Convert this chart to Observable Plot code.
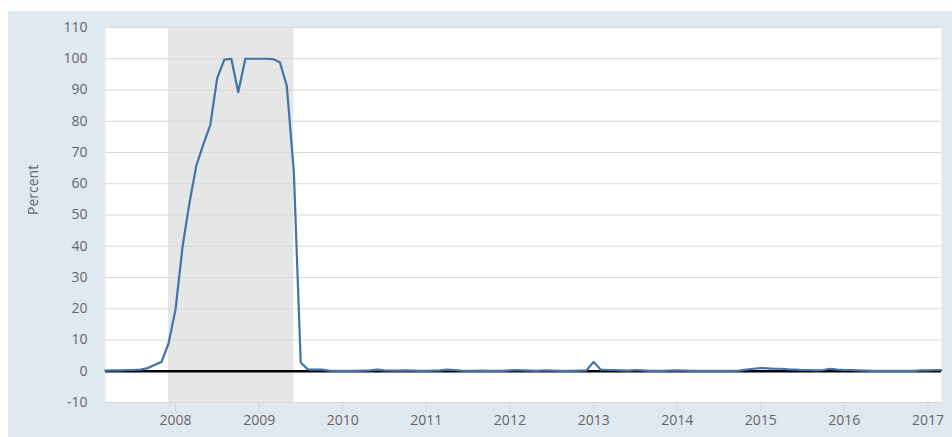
<!DOCTYPE html>
<html>
<head>
<meta charset="utf-8">
<script src="https://cdn.jsdelivr.net/npm/d3@7"></script>
<script src="https://cdn.jsdelivr.net/npm/@observablehq/plot@0.6"></script>
<style>
  html, body { margin: 0; padding: 0; background: #ffffff; }
  #wrap { position: absolute; left: 8px; top: 11px; width: 944px; height: 426px; background: #e1e9f0; }
  svg { display: block; }
</style>
</head>
<body>
<div id="wrap"></div>
<script>
// Monthly series, 2007-03 through 2017-03 (percent)
const startMonth = "2007-03-01";
const values = [
  // 2007 Mar-Dec
  0.2, 0.3, 0.3, 0.4, 0.4, 0.5, 1.0, 2.0, 3.0, 8.8,
  // 2008
  19.8, 40.0, 53.5, 65.8, 72.5, 78.8, 93.8, 99.7, 100, 89.3, 100, 100,
  // 2009
  100, 100, 99.9, 98.9, 91.4, 63.8, 2.8, 0.6, 0.5, 0.5, 0.2, 0.1,
  // 2010
  0.1, 0.1, 0.1, 0.2, 0.3, 0.5, 0.3, 0.2, 0.2, 0.3, 0.2, 0.1,
  // 2011
  0.1, 0.2, 0.3, 0.5, 0.4, 0.2, 0.1, 0.1, 0.2, 0.1, 0.1, 0.1,
  // 2012
  0.3, 0.4, 0.3, 0.2, 0.1, 0.3, 0.2, 0.1, 0.1, 0.1, 0.2, 0.3,
  // 2013
  3.0, 0.5, 0.4, 0.4, 0.3, 0.2, 0.4, 0.3, 0.1, 0.1, 0.1, 0.2,
  // 2014
  0.3, 0.2, 0.1, 0.1, 0.1, 0.1, 0.1, 0.1, 0.1, 0.2, 0.5, 0.8,
  // 2015
  1.0, 0.9, 0.8, 0.8, 0.6, 0.5, 0.4, 0.4, 0.3, 0.4, 0.8, 0.5,
  // 2016
  0.4, 0.4, 0.3, 0.2, 0.1, 0.1, 0.1, 0.1, 0.1, 0.1, 0.1, 0.3,
  // 2017 Jan-Mar
  0.3, 0.4, 0.4
];
const recessionStart = "2007-12-01";
const recessionEnd = "2009-06-01";
const yTicks = [-10, 0, 10, 20, 30, 40, 50, 60, 70, 80, 90, 100, 110];
const xTickYears = [2008, 2009, 2010, 2011, 2012, 2013, 2014, 2015, 2016, 2017];
const yLabel = "Percent";

const start = new Date(startMonth);
const data = values.map((v, i) => ({ date: d3.utcMonth.offset(start, i), value: v }));
const recessions = [{ x1: new Date(recessionStart), x2: new Date(recessionEnd) }];
const xTicks = xTickYears.map(y => new Date(Date.UTC(y, 0, 1)));

const chart = Plot.plot({
  width: 944,
  height: 426,
  marginTop: 16,
  marginBottom: 35,
  marginLeft: 97,
  marginRight: 11,
  style: { fontFamily: "'Open Sans', sans-serif", fontSize: "14px", background: "transparent", overflow: "visible" },
  x: { type: "utc", domain: [data[0].date, data[data.length - 1].date] },
  y: { domain: [-10, 110] },
  marks: [
    Plot.frame({ fill: "#ffffff", stroke: null }),
    Plot.rect(recessions, { x1: "x1", x2: "x2", y1: -10, y2: 110, fill: "#e6e6e6" }),
    Plot.gridY(yTicks, { stroke: "#d9d9d9", strokeOpacity: 1, strokeWidth: 1 }),
    Plot.ruleY([0], { stroke: "#000000", strokeWidth: 2.6 }),
    Plot.line(data, { x: "date", y: "value", stroke: "#4572a7", strokeWidth: 2.2, curve: "linear" }),
    Plot.axisY(yTicks, { tickSize: 0, tickPadding: 18, tickFormat: d => String(d), fill: "#666666", fontSize: 14, label: null }),
    Plot.axisX(xTicks, { tickSize: 10, tickPadding: 3, tickFormat: d3.utcFormat("%Y"), stroke: "#ccd6eb", fill: "#666666", fontSize: 14, label: null }),
    Plot.text([yLabel], { frameAnchor: "left", dx: -72, rotate: -90, text: d => d, fill: "#666666", fontSize: 14 })
  ]
});
document.getElementById("wrap").appendChild(chart);
</script>
</body>
</html>
